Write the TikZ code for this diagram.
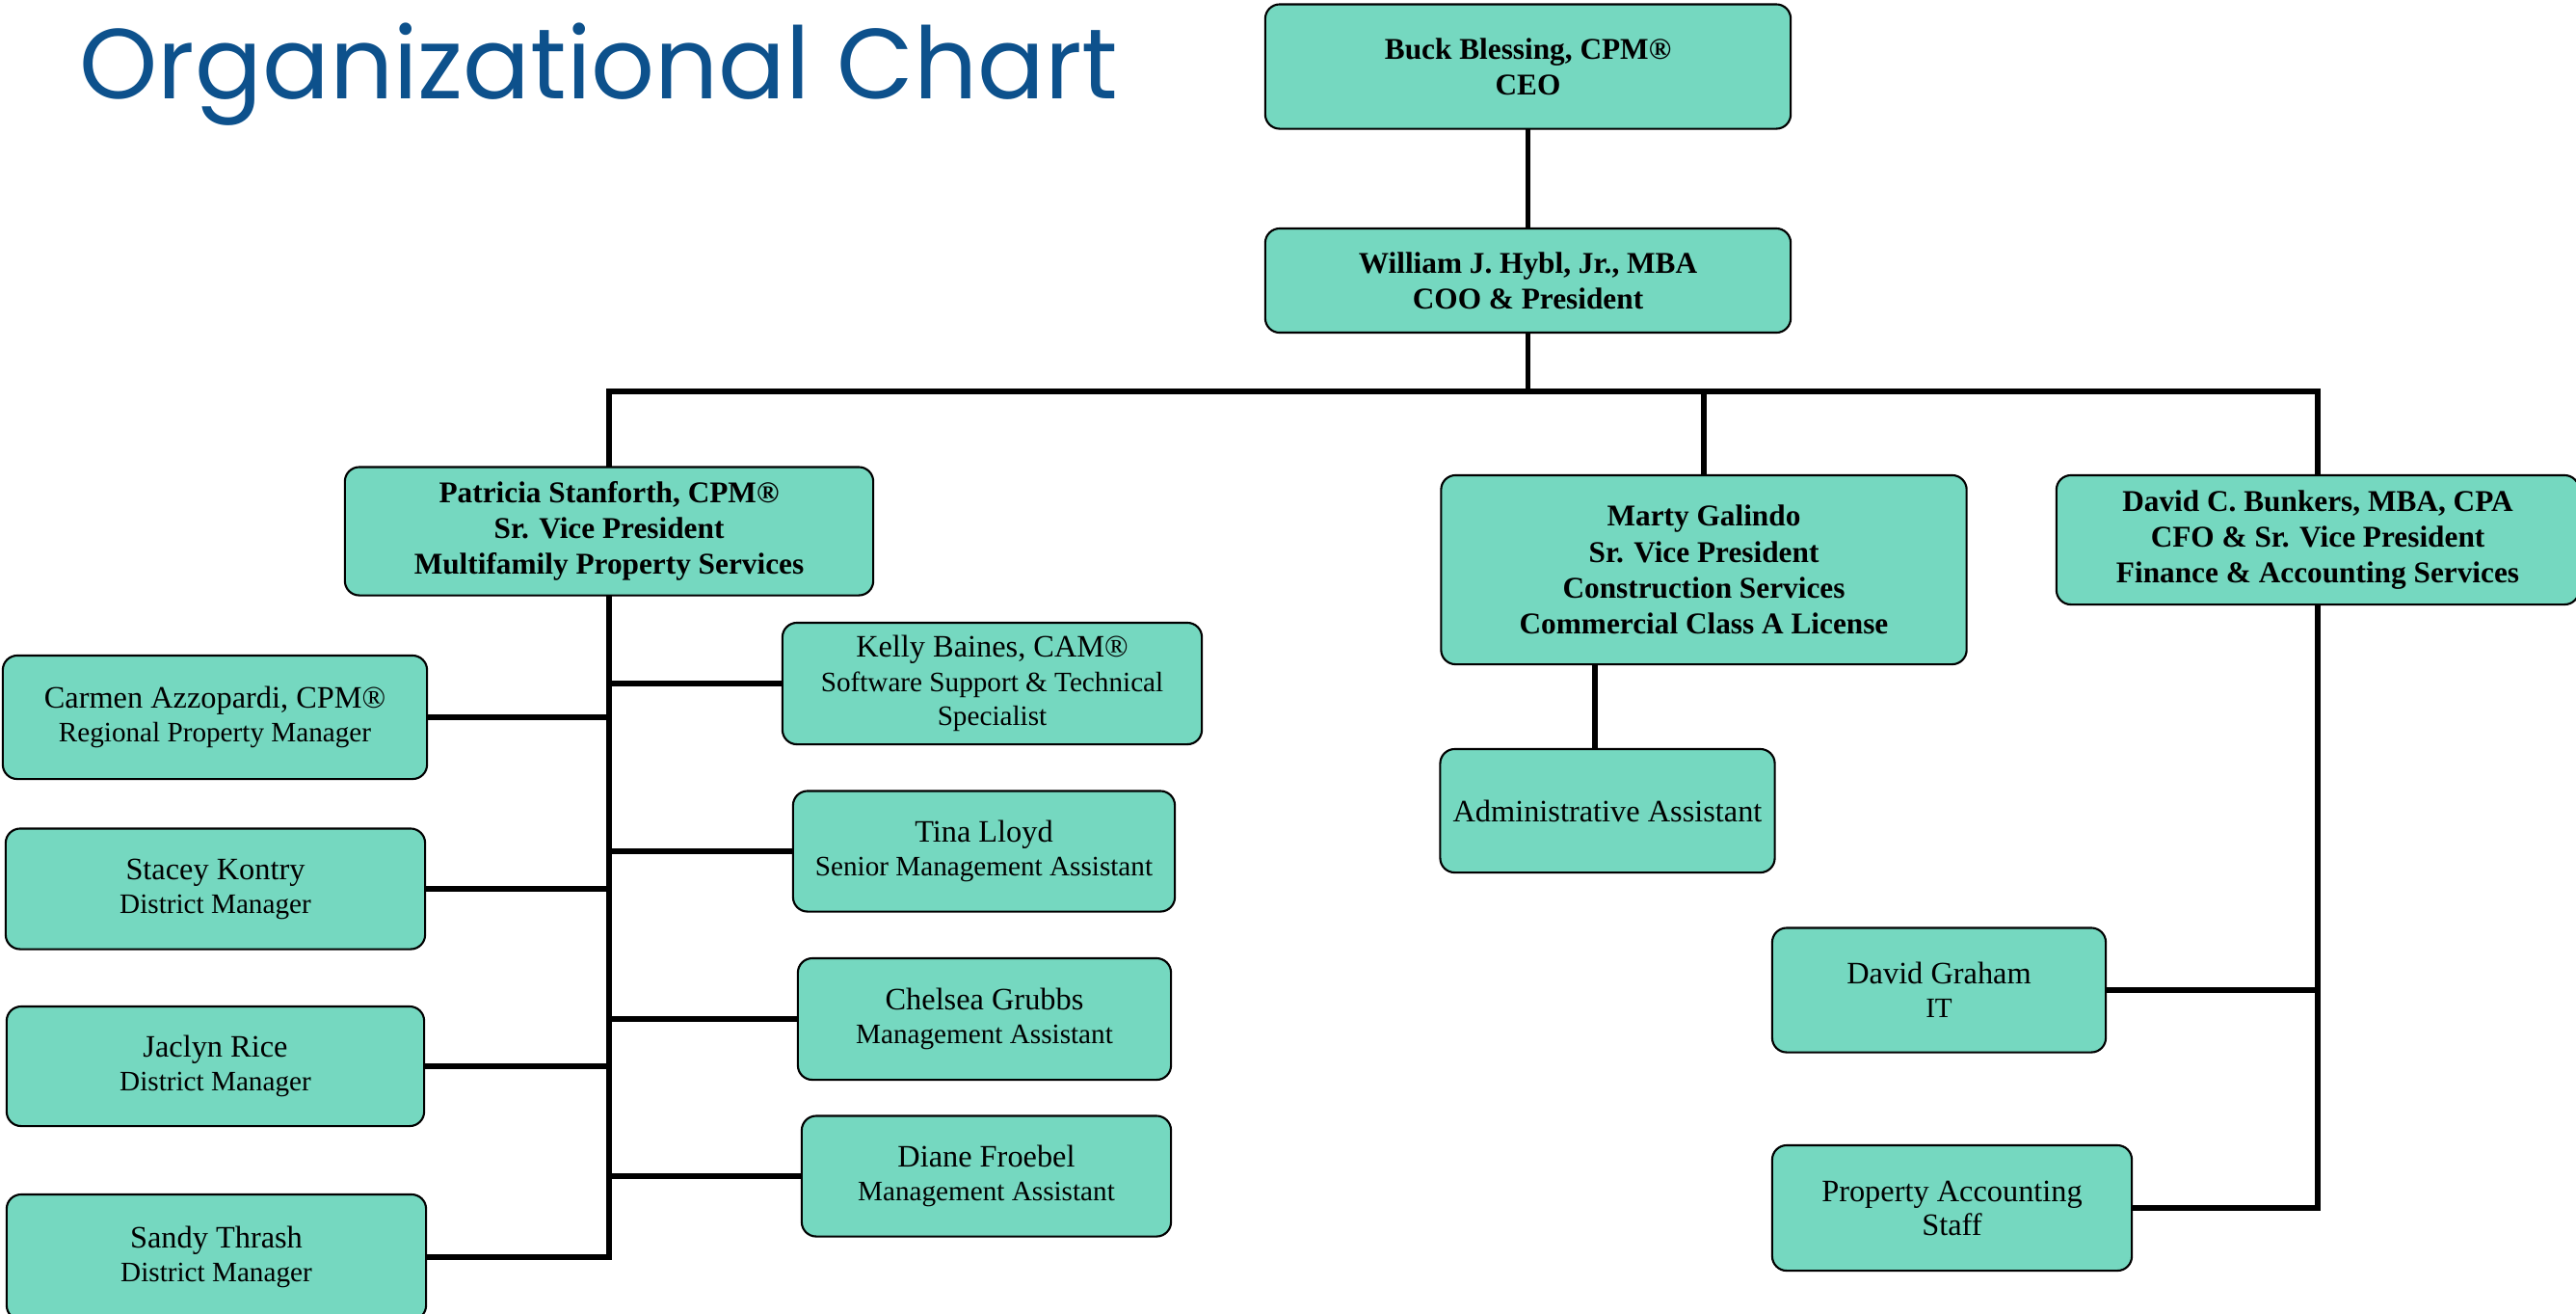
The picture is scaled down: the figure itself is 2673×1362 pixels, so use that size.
\documentclass[tikz,border=0pt]{standalone}
\usepackage{fontspec}
\setmainfont{Liberation Serif}
\newfontfamily\titlefont{Poppins}
\usetikzlibrary{backgrounds}
\definecolor{boxfill}{RGB}{117,216,192}
\definecolor{titleblue}{RGB}{13,81,140}
\newcommand{\personName}[1]{{\fontsize{9.2}{10}\selectfont #1}}
\tikzset{
  orgbox/.style={draw=black, line width=0.6pt, fill=boxfill, rounded corners=0.15cm,
    align=center, inner sep=0pt, font=\fontsize{8.3}{10}\selectfont},
  headbox/.style={orgbox, font=\bfseries\fontsize{8.9}{10.6}\selectfont},
  boxdim/.style 2 args={minimum width=#1cm, minimum height=#2cm},
  link/.style={line width=1.5pt, line cap=rect}
}

\begin{document}
\begin{tikzpicture}[x=0.01cm, y=-0.01cm]
  \path[use as bounding box] (0,0) rectangle (2673,1362);
  \clip (0,0) rectangle (2673,1362);

  \node[anchor=base west, inner sep=0pt, text=titleblue] (title) at (82,102)
    {\resizebox{10.77cm}{!}{\titlefont Organizational Chart}};

  % top of the chart
  \node[headbox, boxdim={5.45}{1.29}] (ceo) at (1585.5,69) {Buck Blessing, CPM®\\CEO};
  \node[headbox, boxdim={5.45}{1.08}] (coo) at (1585.5,291) {William J. Hybl, Jr., MBA\\COO \& President};
  \node[headbox, boxdim={5.48}{1.33}] (pat) at (632,551)
    {Patricia Stanforth, CPM®\\Sr. Vice President\\Multifamily Property Services};
  \node[headbox, boxdim={5.45}{1.96}] (marty) at (1768,591)
    {Marty Galindo\\Sr. Vice President\\Construction Services\\Commercial Class A License};
  \node[headbox, boxdim={5.42}{1.34}] (bunkers) at (2405,560)
    {David C. Bunkers, MBA, CPA\\CFO \& Sr. Vice President\\Finance \& Accounting Services};

  % multifamily, left side
  \node[orgbox, boxdim={4.40}{1.28}] (carmen) at (223,744) {\personName{Carmen Azzopardi, CPM®}\\Regional Property Manager};
  \node[orgbox, boxdim={4.35}{1.25}] (stacey) at (223.5,922) {\personName{Stacey Kontry}\\District Manager};
  \node[orgbox, boxdim={4.33}{1.24}] (jaclyn) at (223.5,1106) {\personName{Jaclyn Rice}\\District Manager};
  \node[orgbox, boxdim={4.35}{1.30}] (sandy) at (224.5,1304) {\personName{Sandy Thrash}\\District Manager};

  % multifamily, right side
  \node[orgbox, boxdim={4.35}{1.26}] (kelly) at (1029.5,709)
    {\personName{Kelly Baines, CAM®}\\Software Support \& Technical\\Specialist};
  \node[orgbox, boxdim={3.96}{1.25}] (tina) at (1021,883) {\personName{Tina Lloyd}\\Senior Management Assistant};
  \node[orgbox, boxdim={3.87}{1.26}] (chelsea) at (1021.5,1057) {\personName{Chelsea Grubbs}\\Management Assistant};
  \node[orgbox, boxdim={3.83}{1.25}] (diane) at (1023.5,1220) {\personName{Diane Froebel}\\Management Assistant};

  % construction and finance
  \node[orgbox, boxdim={3.47}{1.28}] (admin) at (1668,841) {\personName{Administrative Assistant}};
  \node[orgbox, boxdim={3.46}{1.29}] (graham) at (2012,1027) {\personName{David Graham}\\IT};
  \node[orgbox, boxdim={3.73}{1.30}] (pas) at (2025.5,1253) {\personName{Property Accounting}\\\personName{Staff}};

  \begin{scope}[on background layer]
    \fill[white] (0,0) rectangle (2673,1362);
    \coordinate (bus) at (0,406);
    \draw[link] (ceo) -- (coo);
    \draw[link] (coo.south) -- (coo.south |- bus);
    \draw[link] (pat.north) -- (pat.north |- bus) -| (bunkers.north);
    \draw[link] (marty.north) -- (marty.north |- bus);
    \draw[link] (pat.south) -- (pat.south |- sandy.east);
    \foreach \kid in {carmen,stacey,jaclyn,sandy}{
      \draw[link] (\kid.east) -- (\kid.east -| pat.south);
    }
    \foreach \kid in {kelly,tina,chelsea,diane}{
      \draw[link] (\kid.west) -- (\kid.west -| pat.south);
    }
    \draw[link] ([xshift=-0.13cm]admin.north) -- ([xshift=-0.13cm]admin.north |- marty.south);
    \draw[link] (bunkers.south) -- (bunkers.south |- pas.east);
    \foreach \kid in {graham,pas}{
      \draw[link] (\kid.east) -- (\kid.east -| bunkers.south);
    }
  \end{scope}
\end{tikzpicture}
\end{document}
